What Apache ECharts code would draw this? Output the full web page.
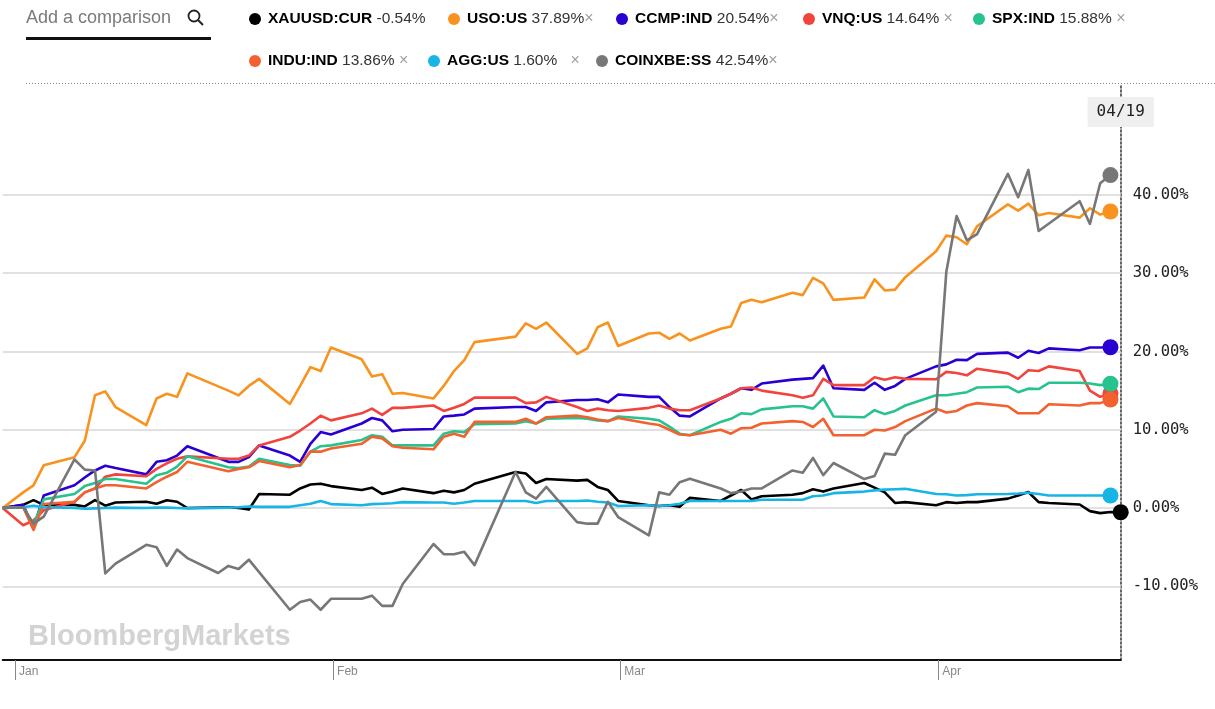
<!DOCTYPE html>
<html>
<head>
<meta charset="utf-8">
<title>Comparison chart</title>
<script src="https://cdn.jsdelivr.net/npm/echarts@6.0.0/dist/echarts.min.js"></script>
<style>
html,body{margin:0;padding:0;background:#ffffff;}
#chart{width:1215px;height:709px;}
</style>
</head>
<body>
<div id="chart"></div>
<script>
// ---------------- data ----------------
const dates = [
  '2018-12-31',
  '2019-01-02','2019-01-03','2019-01-04','2019-01-07','2019-01-08','2019-01-09','2019-01-10','2019-01-11',
  '2019-01-14','2019-01-15','2019-01-16','2019-01-17','2019-01-18','2019-01-21',
  '2019-01-22','2019-01-23','2019-01-24','2019-01-25','2019-01-28','2019-01-29','2019-01-30','2019-01-31',
  '2019-02-01','2019-02-04','2019-02-05','2019-02-06','2019-02-07','2019-02-08',
  '2019-02-11','2019-02-12','2019-02-13','2019-02-14','2019-02-15',
  '2019-02-19','2019-02-20','2019-02-21','2019-02-22','2019-02-25','2019-02-26','2019-02-27','2019-02-28',
  '2019-03-01','2019-03-04','2019-03-05','2019-03-06','2019-03-07','2019-03-08',
  '2019-03-11','2019-03-12','2019-03-13','2019-03-14','2019-03-15',
  '2019-03-18','2019-03-19','2019-03-20','2019-03-21','2019-03-22',
  '2019-03-25','2019-03-26','2019-03-27','2019-03-28','2019-03-29',
  '2019-04-01','2019-04-02','2019-04-03','2019-04-04','2019-04-05',
  '2019-04-08','2019-04-09','2019-04-10','2019-04-11','2019-04-12',
  '2019-04-15','2019-04-16','2019-04-17','2019-04-18','2019-04-19'
];

const seriesNames = ['XAUUSD:CUR','USO:US','CCMP:IND','VNQ:US','SPX:IND','INDU:IND','AGG:US','COINXBE:SS'];
const changeLabels = ['-0.54%','37.89%','20.54%','14.64%','15.88%','13.86%','1.60%','42.54%'];

const xauusd = [
  0,
  0.4, 1.0, 0.4, 0.4, 0.2, 1.0, 0.3, 0.7,
  0.8, 0.55, 1.0, 0.8, 0.0, null,
  0.1, 0.0, -0.2, 1.8, 1.7, 2.5, 3.0, 3.1,
  2.8, 2.3, 2.6, 1.8, 2.1, 2.5,
  1.9, 2.2, 2.0, 2.3, 3.1,
  4.6, 4.4, 3.2, 3.7, 3.5, 3.6, 2.7, 2.3,
  0.9, 0.35, 0.25, 0.35, 0.15, 1.3,
  0.9, 1.6, 2.3, 1.1, 1.5,
  1.7, 1.9, 2.4, 2.1, 2.5,
  3.2, 2.6, 2.0, 0.65, 0.75,
  0.35, 0.75, 0.65, 0.75, 0.75,
  1.2, 1.6, 2.05, 0.75, 0.65,
  0.45, -0.4, -0.65, -0.5, -0.54
];
const uso = [
  0,
  2.0, 2.9, 5.45, 6.5, 8.6, 14.4, 14.9, 12.9,
  10.6, 14.0, 14.6, 14.2, 17.2, null,
  15.0, 14.4, 15.6, 16.5, 13.3, 15.6, 18.0, 17.5,
  20.5, 19.0, 16.8, 17.1, 14.6, 14.7,
  14.0, 15.6, 17.5, 18.9, 21.2,
  21.9, 23.6, 22.9, 23.7, 19.7, 20.4, 23.1, 23.7,
  20.7, 22.3, 22.4, 21.6, 22.3, 21.4,
  22.9, 23.2, 26.2, 26.6, 26.3,
  27.5, 27.2, 29.4, 28.7, 26.6,
  26.9, 29.2, 27.8, 27.9, 29.5,
  32.8, 34.8, 34.6, 33.7, 36.0,
  38.8, 38.0, 38.9, 37.4, 37.7,
  37.1, 38.3, 37.5, 37.89, null
];
const ccmp = [
  0,
  0.4, -2.6, 1.6, 2.9, 3.9, 4.8, 5.4, 5.1,
  4.3, 5.9, 6.1, 6.7, 7.9, null,
  5.9, 5.9, 6.5, 8.0, 6.7, 5.9, 8.2, 9.7,
  9.4, 10.8, 11.5, 11.2, 9.8, 10.0,
  10.1, 11.7, 11.8, 11.95, 12.7,
  12.9, 12.9, 12.4, 13.5, 13.8, 13.8, 13.9, 13.5,
  14.5, 14.2, 14.2, 12.9, 11.8, 11.7,
  14.0, 14.6, 15.3, 15.1, 15.9,
  16.4, 16.5, 16.6, 18.2, 15.3,
  15.1, 16.0, 15.1, 15.6, 16.5,
  18.1, 18.35, 18.95, 18.9, 19.7,
  19.85, 19.2, 20.1, 19.8, 20.4,
  20.15, 20.5, 20.5, 20.54, null
];
const vnq = [
  0,
  -2.2, -1.6, -0.3, 0.8, 2.0, 2.5, 4.0, 4.3,
  4.05, 5.0, 5.7, 6.3, 6.6, null,
  6.3, 6.3, 6.7, 8.0, 9.1, 9.9, 10.8, 11.8,
  11.2, 12.1, 12.7, 11.9, 12.8, 12.8,
  13.1, 12.4, 12.8, 13.3, 14.1,
  14.1, 13.4, 13.5, 14.2, 12.9, 12.4, 12.7, 12.5,
  12.4, 12.8, 13.1, 12.7, 12.5, 12.5,
  14.0, 14.6, 15.3, 15.4, 15.0,
  14.4, 14.1, 14.4, 16.5, 15.7,
  15.7, 16.7, 16.4, 16.7, 16.5,
  16.45, 17.4, 17.25, 16.95, 17.8,
  17.2, 16.5, 17.6, 17.5, 18.1,
  17.5, 15.0, 14.2, 14.64, null
];
const spx = [
  0,
  0.1, -2.2, 1.1, 1.8, 2.8, 3.2, 3.7, 3.7,
  3.1, 4.2, 4.5, 5.3, 6.6, null,
  5.2, 5.1, 5.3, 6.3, 5.5, 5.4, 7.2, 7.9,
  8.0, 8.7, 9.3, 9.1, 8.0, 8.0,
  8.0, 9.5, 9.8, 9.7, 10.7,
  10.8, 11.1, 10.8, 11.4, 11.5, 11.4, 11.2, 11.1,
  11.7, 11.4, 11.2, 10.4, 9.5, 9.3,
  11.0, 11.4, 12.1, 12.0, 12.6,
  13.0, 13.0, 12.7, 14.0, 11.7,
  11.6, 12.5, 12.0, 12.4, 13.1,
  14.4, 14.4, 14.6, 14.8, 15.4,
  15.5, 14.8, 15.25, 15.2, 16.0,
  16.0, 15.9, 15.7, 15.88, null
];
const indu = [
  0,
  0.1, -2.8, 0.5, 0.8, 2.0, 2.5, 2.9, 2.9,
  2.5, 3.3, 4.0, 4.6, 5.9, null,
  4.7, 5.0, 5.2, 6.0, 5.2, 5.5, 7.2, 7.2,
  7.6, 8.2, 9.1, 8.9, 7.9, 7.7,
  7.5, 9.1, 9.5, 9.1, 11.0,
  11.0, 11.4, 10.8, 11.6, 11.8, 11.6, 11.3, 11.1,
  11.5, 10.8, 10.6, 10.0, 9.4, 9.3,
  10.0, 9.5, 10.2, 10.25, 10.8,
  11.1, 11.0, 10.35, 11.4, 9.3,
  9.3, 10.0, 9.9, 10.35, 11.1,
  12.7, 12.2, 12.4, 13.1, 13.4,
  13.0, 12.1, 12.1, 12.1, 13.25,
  13.1, 13.4, 13.4, 13.86, null
];
const agg = [
  0,
  0.1, 0.3, 0.1, 0.0, -0.1, -0.05, 0.0, 0.05,
  0.0, 0.05, 0.05, 0.0, -0.05, null,
  0.05, 0.1, 0.2, 0.15, 0.15, 0.35, 0.55, 0.9,
  0.5, 0.35, 0.5, 0.55, 0.6, 0.75,
  0.7, 0.7, 0.55, 0.7, 0.9,
  0.9, 0.9, 0.65, 0.9, 0.9, 0.95, 0.8, 0.7,
  0.25, 0.35, 0.25, 0.35, 0.55, 0.9,
  0.9, 0.9, 0.9, 0.9, 1.05,
  1.05, 1.05, 1.5, 1.6, 1.9,
  2.1, 2.25, 2.35, 2.4, 2.45,
  1.8, 1.75, 1.6, 1.65, 1.75,
  1.8, 1.85, 1.95, 1.8, 1.6,
  1.6, 1.6, 1.6, 1.60, null
];
const coinxbe = [
  0,
  0.1, -2.0, -1.1, 6.2, 4.9, 4.8, -8.35, -7.1,
  -4.7, -5.0, -7.4, -5.3, -6.4, -8.3,
  -7.4, -7.8, -6.6, null, -13.0, -12.0, -11.7, -13.0,
  -11.6, -11.6, -11.2, -12.5, -12.5, -9.7,
  -4.6, -5.9, -5.9, -5.6, -7.3,
  4.6, 2.0, 1.2, 2.7, -1.8, -2.0, -2.0, 0.8,
  -1.15, -3.5, 2.0, 1.7, 3.3, 3.75,
  2.5, 1.9, 2.1, 2.5, 2.5,
  4.8, 4.5, 6.4, 4.2, 5.75,
  3.7, 4.1, 6.95, 6.8, 9.3,
  12.3, 30.2, 37.3, 34.2, 35.0,
  42.7, 39.7, 43.2, 35.4, null,
  39.2, 36.3, 41.5, 42.54, null
];

const monthStarts = ['2019-01-01','2019-02-01','2019-03-01','2019-04-01'];
const monthLabels = ['Jan','Feb','Mar','Apr'];
const yTickValues = [-10, 0, 10, 20, 30, 40];
const rangeStart = '2018-12-31';
const rangeEnd = '2019-04-19';
const currentLabel = '04/19';

// ---------------- chart ----------------
const seriesValues = [xauusd, uso, ccmp, vnq, spx, indu, agg, coinxbe];
const colors = ['#000000','#f7931e','#2a00d2','#f1443c','#27c38e','#f2612f','#17b4e6','#777777'];

function toTs(s) {
  const p = s.split('-').map(Number);
  return new Date(p[0], p[1] - 1, p[2]).getTime();
}
const monthTickValues = monthStarts.map(function (s) { return toTs(s) + 5 * 3600e3; });

const series = seriesValues.map(function (arr, i) {
  const pts = [];
  arr.forEach(function (v, j) { if (v !== null) pts.push([toTs(dates[j]), v]); });
  const last = pts.length - 1;
  const data = pts.map(function (p, j) {
    return j === last ? { value: p, symbol: 'circle', symbolSize: 16 } : p;
  });
  const s = {
    name: seriesNames[i],
    type: 'line',
    data: data,
    symbol: 'none',
    showSymbol: true,
    clip: false,
    silent: true,
    lineStyle: { width: 2.6, color: colors[i], join: 'round' },
    itemStyle: { color: colors[i] },
    emphasis: { disabled: true },
    animation: false
  };
  if (i === 0) {
    s.markLine = {
      silent: true,
      z: 1,
      symbol: ['none', 'none'],
      label: { show: false },
      lineStyle: { color: '#e1e1e1', width: 2, type: 'solid' },
      emphasis: { disabled: true },
      animation: false,
      data: yTickValues.map(function (v) { return { yAxis: v }; })
    };
  }
  return s;
});

const legendPos = [[249, 11], [448, 11], [616, 11], [803, 11], [973, 11], [249, 53], [428, 53], [596, 53]];
const closeGap = ['', '', '', ' ', ' ', ' ', '   ', ''];
const legendRich = {
  t: { fontFamily: 'Liberation Sans', fontWeight: 'bold', fontSize: 15.5, color: '#000', lineHeight: 18, padding: [0, 0, 0, 2] },
  p: { fontFamily: 'Liberation Sans', fontSize: 15.5, color: '#333', lineHeight: 18 },
  x: { fontFamily: 'Liberation Sans', fontSize: 16, color: '#a0a0a0', lineHeight: 18 }
};
const legends = seriesNames.map(function (n, i) {
  return {
    data: [n],
    left: legendPos[i][0],
    top: legendPos[i][1],
    padding: 0,
    icon: 'circle',
    itemWidth: 12,
    itemHeight: 12,
    selectedMode: false,
    formatter: function (name) {
      return '{t|' + name + '} {p|' + changeLabels[i] + '}' + (i === 0 ? '' : '{x|' + closeGap[i] + '×}');
    },
    textStyle: { fontFamily: 'Liberation Sans', fontSize: 15.5, color: '#333', rich: legendRich }
  };
});

const chart = echarts.init(document.getElementById('chart'), null, { renderer: 'canvas' });

const option = {
  animation: false,
  backgroundColor: '#ffffff',
  textStyle: { fontFamily: 'Liberation Sans' },
  legend: legends,
  grid: { left: 2.7, right: 94.3, top: 85, bottom: 49, containLabel: false, outerBoundsMode: 'none' },
  xAxis: {
    type: 'value',
    min: toTs(rangeStart),
    max: toTs(rangeEnd),
    axisLine: { show: true, onZero: false, lineStyle: { color: '#111', width: 2 } },
    axisTick: {
      show: true, length: 20, inside: false,
      lineStyle: { color: '#888', width: 1 },
      customValues: monthTickValues
    },
    axisLabel: {
      show: true,
      customValues: monthTickValues,
      formatter: function (v) { return monthLabels[new Date(v).getMonth()]; },
      align: 'left',
      padding: [0, 0, 0, 4],
      margin: 6,
      fontSize: 12,
      color: '#888',
      fontFamily: "'Liberation Sans Narrow', 'Liberation Sans'",
      hideOverlap: false,
      showMinLabel: true,
      showMaxLabel: true
    },
    splitLine: { show: false }
  },
  yAxis: {
    type: 'value',
    position: 'right',
    min: -19.42,
    max: 54.05,
    axisLine: { show: true, onZero: false, lineStyle: { color: '#333', width: 1.5, type: [2, 2] } },
    axisTick: { show: false },
    splitLine: { show: false },
    axisLabel: {
      customValues: yTickValues,
      formatter: function (v) { return v.toFixed(2) + '%'; },
      margin: 12,
      fontFamily: 'DejaVu Sans Mono',
      fontSize: 15.5,
      color: '#222'
    }
  },
  graphic: [
    { id: 'searchText', type: 'text', left: 26, top: 9,
      style: { text: 'Add a comparison', font: '18px "Liberation Sans"', fill: '#7a7a7a' } },
    { id: 'searchCircle', type: 'circle', shape: { cx: 194, cy: 16, r: 5.5 },
      style: { fill: 'none', stroke: '#222', lineWidth: 1.8 } },
    { id: 'searchHandle', type: 'line', shape: { x1: 198, y1: 20, x2: 203, y2: 25 },
      style: { stroke: '#222', lineWidth: 2 } },
    { id: 'searchUnderline', type: 'rect', shape: { x: 26, y: 37, width: 185, height: 3 },
      style: { fill: '#111' } },
    { id: 'separator', type: 'line', shape: { x1: 26, y1: 83.5, x2: 1215, y2: 83.5 },
      style: { stroke: '#888', lineWidth: 1, lineDash: [1, 2] } },
    { id: 'watermark', type: 'text', x: 28, y: 637, z: 0,
      style: { text: 'BloombergMarkets', font: 'bold 29px "Liberation Sans"', fill: '#d3d3d3', verticalAlign: 'middle' } }
  ],
  series: series
};

chart.setOption(option);

const px = chart.convertToPixel({ xAxisIndex: 0 }, toTs(rangeEnd));
chart.setOption({
  graphic: [
    { id: 'dateBox', type: 'text', x: px, y: 112, z: 100,
      style: { text: currentLabel, font: '16px "DejaVu Sans Mono"', fill: '#222', align: 'center',
               verticalAlign: 'middle', backgroundColor: '#efefef', padding: [7, 9] } }
  ]
});
</script>
</body>
</html>
